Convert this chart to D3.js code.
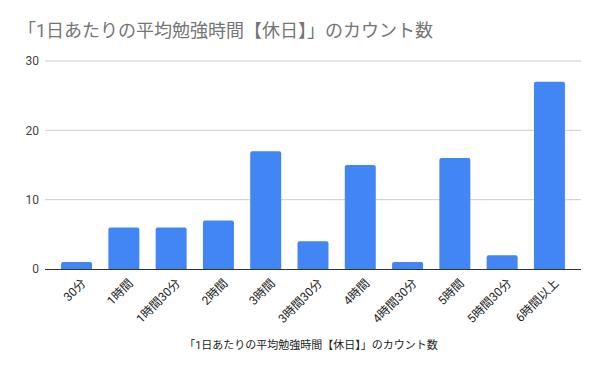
<!DOCTYPE html>
<html>
<head>
<meta charset="utf-8">
<script src="https://cdn.jsdelivr.net/npm/d3@7"></script>
<style>
  body { margin: 0; background: #fff; }
  text { font-family: Roboto, "Noto Sans CJK JP", sans-serif; }
</style>
</head>
<body>
<div id="chart"></div>
<script>
const categories = ["30分", "1時間", "1時間30分", "2時間", "3時間", "3時間30分", "4時間", "4時間30分", "5時間", "5時間30分", "6時間以上"];
const counts = [1, 6, 6, 7, 17, 4, 15, 1, 16, 2, 27];
const yTicks = [0, 10, 20, 30];
const chartTitle = "「1日あたりの平均勉強時間【休日】」のカウント数";
const xTitle = "「1日あたりの平均勉強時間【休日】」のカウント数";

const width = 600, height = 371;
const margin = {top: 61, right: 19, bottom: 102, left: 45};
const w = width - margin.left - margin.right;
const h = height - margin.top - margin.bottom;

const svg = d3.select("#chart")
    .append("svg")
    .attr("width", width)
    .attr("height", height);

svg.append("text")
    .attr("x", 18).attr("y", 37)
    .text(chartTitle)
    .style("font-size", "18px")
    .style("fill", "#757575");

const g = svg.append("g")
    .attr("transform", `translate(${margin.left},${margin.top})`);

const xx = d3.scaleBand()
    .domain(categories)
    .range([0, w])
    .paddingInner(0.345)
    .paddingOuter(0.34);

const yy = d3.scaleLinear()
    .domain([0, 30])
    .range([h, 0]);

// gridlines
g.append("g")
    .selectAll("line")
    .data(yTicks.filter(d => d > 0))
    .join("line")
    .attr("x1", 0).attr("x2", w)
    .attr("y1", d => yy(d)).attr("y2", d => yy(d))
    .attr("stroke", "#cccccc")
    .attr("stroke-width", 1);

// y labels
g.append("g")
    .selectAll("text")
    .data(yTicks)
    .join("text")
    .attr("x", -6)
    .attr("y", d => yy(d))
    .attr("dy", "0.35em")
    .attr("text-anchor", "end")
    .text(d => d)
    .style("font-size", "12px")
    .style("fill", "#444");

// bars
g.append("g")
    .selectAll("path")
    .data(counts)
    .join("path")
    .attr("fill", "#4285F4")
    .attr("d", (d, i) => {
        const x0 = xx(categories[i]), bw = xx.bandwidth();
        const y0 = yy(d), r = Math.min(2, yy(0) - y0);
        return `M${x0},${yy(0)}V${y0 + r}Q${x0},${y0} ${x0 + r},${y0}H${x0 + bw - r}Q${x0 + bw},${y0} ${x0 + bw},${y0 + r}V${yy(0)}Z`;
    });

// baseline
g.append("line")
    .attr("x1", 0).attr("x2", w)
    .attr("y1", h + 0.5).attr("y2", h + 0.5)
    .attr("stroke", "#333")
    .attr("stroke-width", 1);

// x labels
g.append("g")
    .selectAll("text")
    .data(categories)
    .join("text")
    .attr("transform", d => `translate(${xx(d) + xx.bandwidth() / 2 + 7},${h + 12}) rotate(-45)`)
    .attr("text-anchor", "end")
    .attr("dy", "0.35em")
    .text(d => d)
    .style("font-size", "12px")
    .style("fill", "#222");

svg.append("text")
    .attr("x", 311).attr("y", 349)
    .attr("text-anchor", "middle")
    .text(xTitle)
    .style("font-size", "11px")
    .style("fill", "#222");
</script>
</body>
</html>
